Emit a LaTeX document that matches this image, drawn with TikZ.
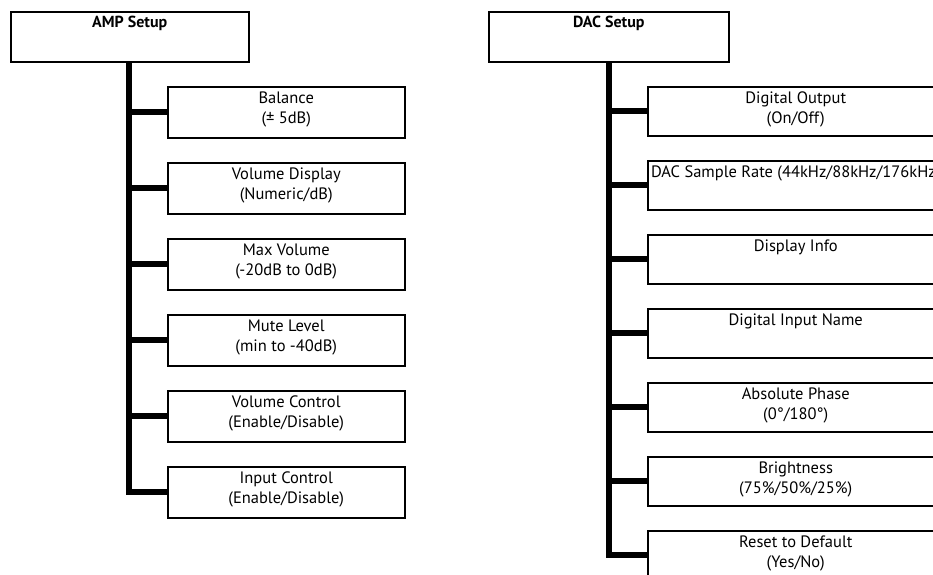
\documentclass[tikz,border=0pt]{standalone}
\usepackage{fontspec}
\setmainfont{PT Sans}
\newcommand\boxtext[1]{\begin{tabular}[t]{@{}c@{}}#1\end{tabular}}
\begin{document}
\begin{tikzpicture}[x=1pt,y=-1pt,
  parentbox/.style={draw, line width=1.5pt, rectangle, inner sep=0pt, anchor=north west,
    minimum width=238pt, minimum height=50pt,
    font=\fontsize{16}{20}\selectfont\bfseries, text height=16pt, text depth=34pt},
  ampbox/.style={draw, line width=1.5pt, rectangle, inner sep=0pt, anchor=north west,
    minimum width=237pt, minimum height=51pt,
    font=\fontsize{16.5}{20}\selectfont, text height=17pt, text depth=34pt},
  dacbox/.style={draw, line width=1.5pt, rectangle, inner sep=0pt, anchor=north west,
    minimum width=296pt, minimum height=49pt,
    font=\fontsize{16.5}{20}\selectfont, text height=17pt, text depth=32pt},
  conn/.style={line width=6pt, line join=miter, line cap=butt}]
\clip (0,0) rectangle (933,574);
\fill[white] (0,0) rectangle (933,574);

% AMP tree
\node[parentbox] (amp) at (10,11) {AMP Setup};
\node[ampbox] (a1) at (167,86)  {\boxtext{Balance\\(\char"00B1\ 5dB)}};
\node[ampbox] (a2) at (167,162) {\boxtext{Volume Display\\(Numeric/dB)}};
\node[ampbox] (a3) at (167,238) {\boxtext{Max Volume\\(-20dB to 0dB)}};
\node[ampbox] (a4) at (167,314) {\boxtext{Mute Level\\(min to -40dB)}};
\node[ampbox] (a5) at (167,390) {\boxtext{Volume Control\\(Enable/Disable)}};
\node[ampbox] (a6) at (167,466) {\boxtext{Input Control\\(Enable/Disable)}};
\coordinate (ta) at (129,61);
\draw[conn] (ta) |- (a6.west);
\foreach \i in {1,...,5} \draw[conn] (a\i.west -| ta) -- (a\i.west);

% DAC tree
\node[parentbox, minimum width=240pt] (dac) at (488,11) {DAC Setup};
\node[dacbox] (d1) at (647,86)  {\boxtext{Digital Output\\(On/Off)}};
\node[dacbox] (d2) at (647,160) {\boxtext{DAC Sample Rate (44kHz/88kHz/176kHz)}};
\node[dacbox] (d3) at (647,234) {\boxtext{Display Info}};
\node[dacbox] (d4) at (647,308) {\boxtext{Digital Input Name}};
\node[dacbox] (d5) at (647,382) {\boxtext{Absolute Phase\\(0°/180°)}};
\node[dacbox] (d6) at (647,456) {\boxtext{Brightness\\(75\%/50\%/25\%)}};
\node[dacbox] (d7) at (647,530) {\boxtext{Reset to Default\\(Yes/No)}};
\coordinate (td) at (609,61);
\draw[conn] (td) |- (d7.west);
\foreach \i in {1,...,6} \draw[conn] (d\i.west -| td) -- (d\i.west);
\end{tikzpicture}
\end{document}
